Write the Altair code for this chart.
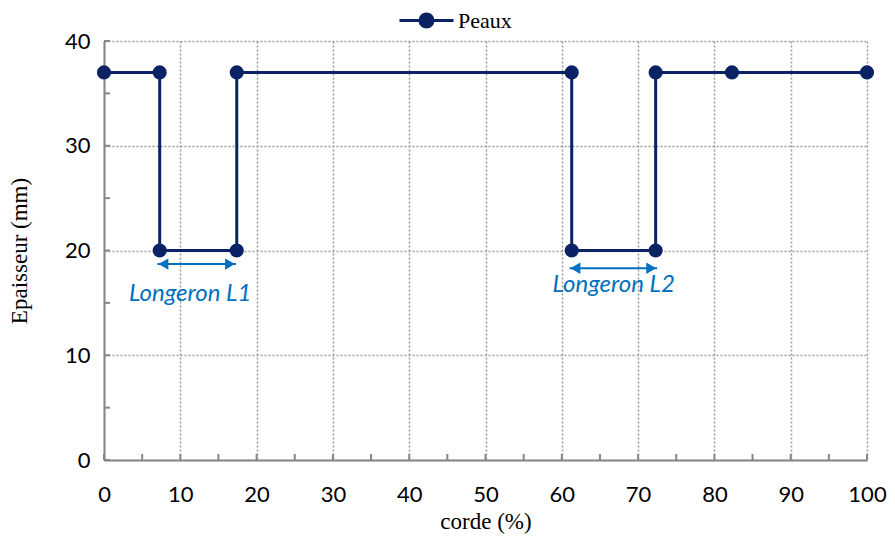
import altair as alt
import pandas as pd

# Data
corde = [0, 7.3, 7.3, 17.4, 17.4, 61.3, 61.3, 72.3, 72.3, 82.3, 100]
epaisseur = [37, 37, 20, 20, 37, 37, 20, 20, 37, 37, 37]
series_name = "Peaux"

x_ticks = list(range(0, 101, 10))
y_ticks = list(range(0, 41, 10))
x_minor = list(range(0, 101, 5))
y_minor = list(range(0, 41, 5))

arrow_x1 = [7.0, 61.0]
arrow_x2 = [17.3, 72.5]
arrow_y = [18.7, 18.3]
label_text = ["Longeron L1", "Longeron L2"]
label_x = [11.3, 66.8]
label_y = [15.8, 16.7]

NAVY = "#0B2264"
BLUE = "#0070C0"
W, H = 763, 419

df = pd.DataFrame({"corde": corde, "ep": epaisseur, "serie": [series_name] * len(corde),
                   "order": list(range(len(corde)))})
arrows = pd.DataFrame({"x1": arrow_x1, "x2": arrow_x2, "y": arrow_y})
labels = pd.DataFrame({"x": label_x, "y": label_y, "t": label_text})
xm = pd.DataFrame({"v": x_minor})
ym = pd.DataFrame({"v": y_minor})

xs = alt.Scale(domain=[0, 100], nice=False)
ys = alt.Scale(domain=[0, 40], nice=False)

xaxis = alt.Axis(values=x_ticks, title="corde (%)", labelPadding=24, titlePadding=5,
                 labelFlush=False)
yaxis = alt.Axis(values=y_ticks, title="Epaisseur (mm)", labelPadding=14, titlePadding=33,
                 labelFlush=False)

legend_path = "M-1,0L1,0M0.24,0A0.24,0.24,0,1,1,-0.24,0A0.24,0.24,0,1,1,0.24,0Z"
color = alt.Color("serie:N", scale=alt.Scale(range=[NAVY]),
                  legend=alt.Legend(title=None, orient="none", legendX=294, legendY=-49,
                                    symbolType=legend_path, symbolSize=2916,
                                    symbolStrokeWidth=3, symbolFillColor=NAVY,
                                    symbolStrokeColor=NAVY, labelFont="Liberation Serif",
                                    labelFontSize=22, labelColor="#000", labelOffset=3,
                                    padding=0))

line = alt.Chart(df).mark_line(strokeWidth=3).encode(
    x=alt.X("corde:Q", scale=xs, axis=xaxis),
    y=alt.Y("ep:Q", scale=ys, axis=yaxis),
    order="order:Q",
    color=color,
)
pts = alt.Chart(df).mark_point(filled=True, size=200, opacity=1).encode(
    x=alt.X("corde:Q", scale=xs),
    y=alt.Y("ep:Q", scale=ys),
    color=alt.Color("serie:N", scale=alt.Scale(range=[NAVY]), legend=None),
)

xt = alt.Chart(xm).mark_rule(color="#868686", strokeWidth=2).encode(
    x=alt.X("v:Q", scale=xs), y=alt.value(H - 6), y2=alt.value(H))
yt = alt.Chart(ym).mark_rule(color="#868686", strokeWidth=2).encode(
    y=alt.Y("v:Q", scale=ys), x=alt.value(0), x2=alt.value(6))

arr_line = alt.Chart(arrows).mark_rule(color=BLUE, strokeWidth=2).encode(
    x=alt.X("x1:Q", scale=xs), x2="x2:Q", y=alt.Y("y:Q", scale=ys))
arr_l = alt.Chart(arrows).mark_point(shape="triangle-left", filled=True, size=130,
                                     color=BLUE, opacity=1, xOffset=6).encode(
    x=alt.X("x1:Q", scale=xs), y=alt.Y("y:Q", scale=ys))
arr_r = alt.Chart(arrows).mark_point(shape="triangle-right", filled=True, size=130,
                                     color=BLUE, opacity=1, xOffset=-6).encode(
    x=alt.X("x2:Q", scale=xs), y=alt.Y("y:Q", scale=ys))
txt = alt.Chart(labels).mark_text(color=BLUE, font="Lato", fontStyle="italic",
                                  fontSize=24, align="center", baseline="middle").encode(
    x=alt.X("x:Q", scale=xs), y=alt.Y("y:Q", scale=ys), text="t:N")

chart = alt.layer(line, xt, yt, arr_line, arr_l, arr_r, txt, pts).properties(
    width=W, height=H,
    autosize=alt.AutoSizeParams(type="none"),
    padding={"left": 96, "top": 33, "right": 20, "bottom": 80},
).configure_view(strokeWidth=0).configure_axis(
    domainColor="#868686", domainWidth=2, ticks=False,
    grid=True, gridColor="#9a9a9a", gridDash=[2, 2], gridWidth=1.5,
    labelFont="Lato", labelFontSize=22, labelColor="#000",
    titleFont="Liberation Serif", titleFontSize=23, titleFontWeight="normal", titleColor="#000",
)

chart.save("out.html", embed_options={"renderer": "svg", "actions": False})
